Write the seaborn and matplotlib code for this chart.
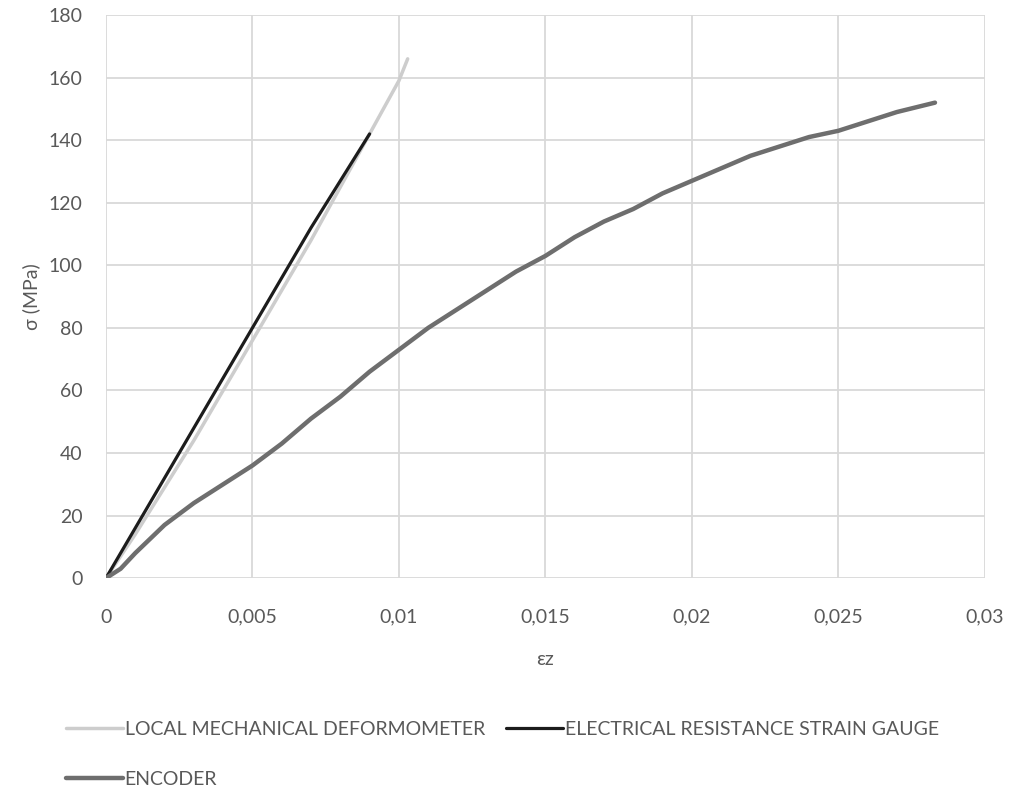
import pandas as pd
import matplotlib.pyplot as plt
import seaborn as sns

sns.set_style('white')
plt.rcParams['font.family'] = ['Lato', 'DejaVu Sans']

# strain (-) vs stress (MPa)
local_eps = [0, 0.001, 0.002, 0.003, 0.004, 0.005, 0.006, 0.007, 0.008, 0.009, 0.010, 0.0103]
local_sig = [0, 14, 29, 44, 60, 76, 92, 108, 125, 142, 159, 166]

gauge_eps = [0, 0.001, 0.002, 0.003, 0.004, 0.005, 0.006, 0.007, 0.008, 0.009]
gauge_sig = [0, 16, 32, 48, 64, 80, 96, 112, 127, 142]

enc_eps = [0, 0.0005, 0.001, 0.002, 0.003, 0.004, 0.005, 0.006, 0.007, 0.008, 0.009, 0.010,
           0.011, 0.012, 0.013, 0.014, 0.015, 0.016, 0.017, 0.018, 0.019, 0.020, 0.021,
           0.022, 0.023, 0.024, 0.025, 0.026, 0.027, 0.0283]
enc_sig = [0, 3, 8, 17, 24, 30, 36, 43, 51, 58, 66, 73,
           80, 86, 92, 98, 103, 109, 114, 118, 123, 127, 131,
           135, 138, 141, 143, 146, 149, 152]

labels = ['LOCAL MECHANICAL DEFORMOMETER', 'ELECTRICAL RESISTANCE STRAIN GAUGE', 'ENCODER']
colors = ['#cdcdcd', '#1c1c1c', '#6e6e6e']

xticks = [0, 0.005, 0.01, 0.015, 0.02, 0.025, 0.03]
xticklabels = ['0', '0,005', '0,01', '0,015', '0,02', '0,025', '0,03']
yticks = [0, 20, 40, 60, 80, 100, 120, 140, 160, 180]

fig = plt.figure(figsize=(10.09, 7.92), dpi=100)
ax = fig.add_axes([0.105, 0.270, 0.871, 0.711])

series = [(local_eps, local_sig), (gauge_eps, gauge_sig), (enc_eps, enc_sig)]
widths = [2.5, 2.3, 3.2]
lines = []
for (x, y), lab, c, w in zip(series, labels, colors, widths):
    df = pd.DataFrame({'eps': x, 'sig': y})
    sns.lineplot(data=df, x='eps', y='sig', ax=ax, color=c, lw=w, sort=False,
                 label=lab, legend=False)
    lines.append(ax.lines[-1])

ax.set_xlim(0, 0.03)
ax.set_ylim(0, 180)
ax.set_xticks(xticks)
ax.set_xticklabels(xticklabels)
ax.set_yticks(yticks)
ax.grid(True, color='#d9d9d9', lw=1.3)
for s in ax.spines.values():
    s.set_visible(False)
ax.tick_params(axis='both', length=0, labelsize=14, colors='#595959')
ax.tick_params(axis='x', pad=22)
ax.tick_params(axis='y', pad=17)
ax.set_xlabel('εz', fontsize=14, color='#595959', labelpad=18)
ax.set_ylabel('σ (MPa)', fontsize=14, color='#595959', labelpad=6)

# row-major order in a 2-column legend
fig.legend([lines[0], lines[2], lines[1]], [labels[0], labels[2], labels[1]],
           ncol=2, loc='upper left', bbox_to_anchor=(0.058, 0.100), frameon=False,
           fontsize=14, labelcolor='#595959', handlelength=2.9, handletextpad=0.1,
           labelspacing=1.7, columnspacing=1.1, borderaxespad=0)

fig.savefig('out.png', dpi=100)
